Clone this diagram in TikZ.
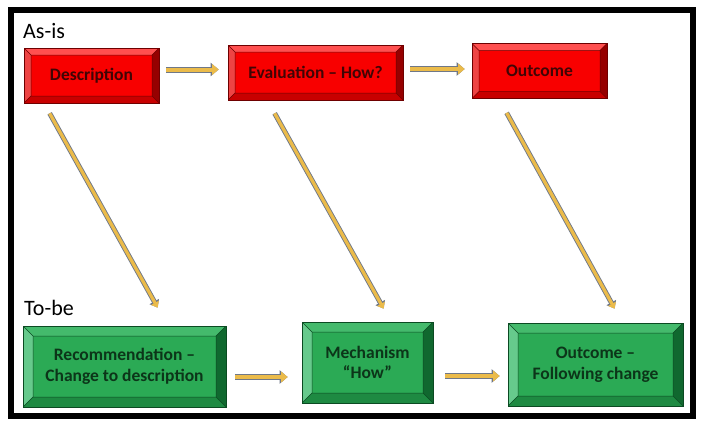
\documentclass[tikz,border=0pt]{standalone}
\usepackage{fontspec}
\setmainfont{Carlito}
\usepackage{tikz}
\usepackage{xcolor}
\usetikzlibrary{arrows.meta}
\definecolor{redface}{HTML}{F80000}
\definecolor{redtop}{HTML}{FF5050}
\definecolor{redleft}{HTML}{EE4444}
\definecolor{redright}{HTML}{960000}
\definecolor{redbottom}{HTML}{C80000}
\definecolor{rededge}{HTML}{6E0000}
\definecolor{redtext}{HTML}{400505}
\definecolor{greenface}{HTML}{2BAA55}
\definecolor{greentop}{HTML}{44BA6C}
\definecolor{greenleft}{HTML}{66CA8C}
\definecolor{greenright}{HTML}{10682F}
\definecolor{greenbottom}{HTML}{1E8A42}
\definecolor{greenedge}{HTML}{0B4A22}
\definecolor{greentext}{HTML}{0C3519}
\definecolor{gold}{HTML}{EBBB4A}
\definecolor{arrowgray}{HTML}{6F7888}
% bevel faces of a box: inset, top, left, right, bottom, edge
\newcommand{\bevelfaces}[6]{%
  \path (path picture bounding box.north west) coordinate (bnw)
        (path picture bounding box.north east) coordinate (bne)
        (path picture bounding box.south west) coordinate (bsw)
        (path picture bounding box.south east) coordinate (bse);
  \path ([shift={(#1,-#1)}]bnw) coordinate (inw)
        ([shift={(-#1,-#1)}]bne) coordinate (ine)
        ([shift={(#1,#1)}]bsw) coordinate (isw)
        ([shift={(-#1,#1)}]bse) coordinate (ise);
  \fill[#2] (bnw) -- (bne) -- (ine) -- (inw) -- cycle;
  \fill[#3] (bnw) -- (inw) -- (isw) -- (bsw) -- cycle;
  \fill[#4] (bne) -- (bse) -- (ise) -- (ine) -- cycle;
  \fill[#5] (bsw) -- (isw) -- (ise) -- (bse) -- cycle;
  \draw[#6, line width=0.5pt] (inw) -- (ine) -- (ise) -- (isw) -- cycle
        (bnw) -- (inw) (bne) -- (ine) (bsw) -- (isw) (bse) -- (ise);
}
\tikzstyle{redbox} = [rectangle, minimum height=55pt, text centered, draw=rededge, line width=0.7pt, fill=redface, text=redtext, font=\bfseries\fontsize{17.5}{20.5}\selectfont, path picture={\bevelfaces{7pt}{redtop}{redleft}{redright}{redbottom}{rededge}}]
\tikzstyle{greenbox} = [rectangle, minimum height=81pt, align=center, draw=greenedge, line width=0.7pt, fill=greenface, text=greentext, font=\bfseries\fontsize{17.5}{20.5}\selectfont, path picture={\bevelfaces{10pt}{greentop}{greenleft}{greenright}{greenbottom}{greenedge}}]
\tikzstyle{tag} = [anchor=base west, inner sep=0pt, font=\fontsize{22}{26}\selectfont]
\tikzstyle{goldarrow} = [draw=gold, line width=4pt, -{Triangle[length=6.5pt,width=10.5pt]}, preaction={draw=arrowgray, line width=6pt, -{Triangle[length=8pt,width=13pt]}}]
\tikzstyle{thinarrow} = [draw=gold, line width=3.2pt, -{Triangle[length=5.5pt,width=8.5pt]}, preaction={draw=arrowgray, line width=5pt, -{Triangle[length=7pt,width=10.5pt]}}]

\begin{document}
\begin{tikzpicture}[x=1pt, y=-1pt, node distance=224pt]
\useasboundingbox (0,0) rectangle (703,429);
\draw [line width=5.5pt] (11,10) rectangle (693,416);
\node (asis) [tag] at (23,38) {As-is};
\node (tobe) [tag] at (24,315) {To-be};
\node (desc) [redbox, minimum width=135pt] at (91.5,75.5) {Description};
\node (eval) [redbox, minimum width=175pt, right of=desc, yshift=3pt] {Evaluation – How?};
\node (outa) [redbox, minimum width=135pt, right of=eval, yshift=1.5pt] {Outcome};
\node (rec) [greenbox, minimum width=203pt] at (124.5,366.5) {Recommendation –\\Change to description};
\node (mech) [greenbox, minimum width=131pt, right of=rec, xshift=19pt, yshift=4pt] {Mechanism\\“How”};
\node (outb) [greenbox, minimum width=175pt, minimum height=83pt, right of=mech, xshift=4pt, yshift=-2pt] {Outcome –\\Following change};
\draw [goldarrow] ([xshift=7pt,yshift=6pt]desc.east) -- ([xshift=-9pt,yshift=3pt]eval.west);
\draw [goldarrow] ([xshift=7pt,yshift=3.5pt]eval.east) -- ([xshift=-7pt,yshift=2pt]outa.west);
\draw [goldarrow] ([xshift=9pt,yshift=-10.5pt]rec.east) -- ([xshift=-14pt,yshift=-14.5pt]mech.west);
\draw [goldarrow] ([xshift=12pt,yshift=-13.5pt]mech.east) -- ([xshift=-8pt,yshift=-11.5pt]outb.west);
\draw [thinarrow] ([xshift=26pt,yshift=-10pt]desc.south west) -- ([xshift=135pt,yshift=18pt]rec.north west);
\draw [thinarrow] ([xshift=47pt,yshift=-13pt]eval.south west) -- ([xshift=82pt,yshift=13pt]mech.north west);
\draw [thinarrow] ([xshift=35pt,yshift=-14pt]outa.south west) -- ([xshift=107pt,yshift=14pt]outb.north west);
\end{tikzpicture}
\end{document}
